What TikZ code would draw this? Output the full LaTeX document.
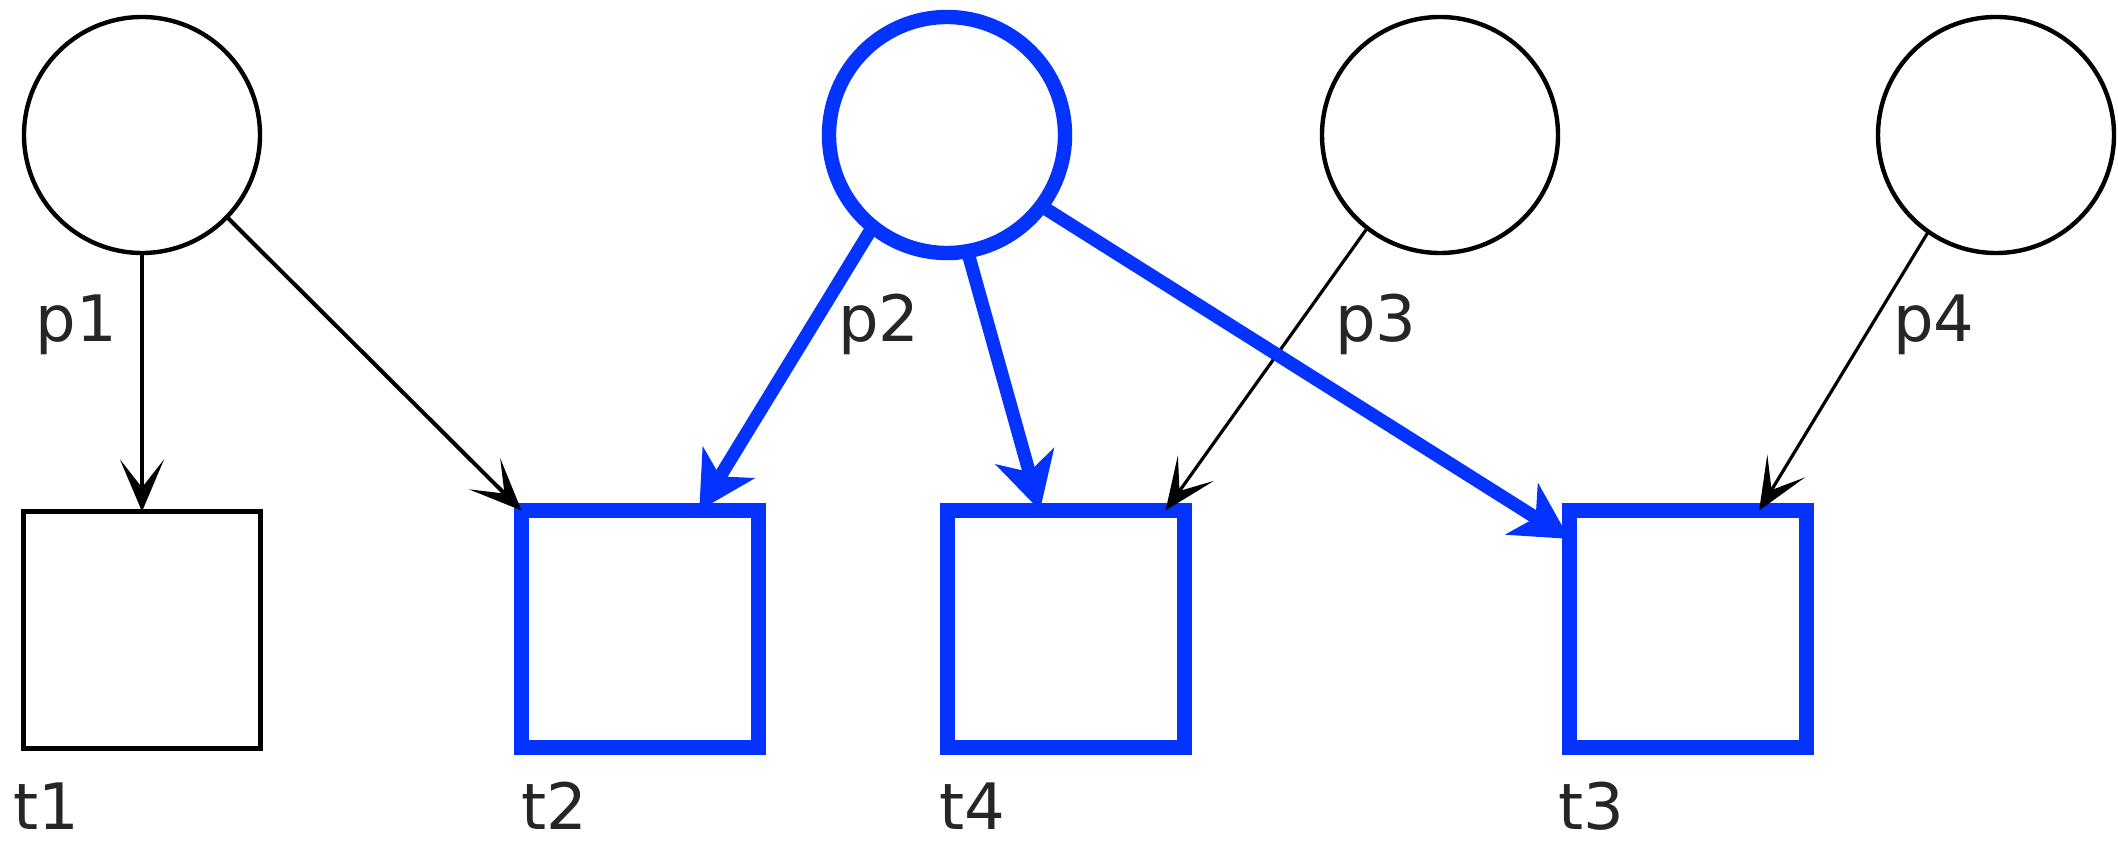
\documentclass[tikz,border=0pt]{standalone}
\usepackage{fontspec}
\setmainfont{DejaVu Sans}
\usetikzlibrary{arrows.meta,calc}
\definecolor{hblue}{RGB}{4,50,255}
\begin{document}
\begin{tikzpicture}[x=0.25pt,y=-0.25pt,
  place/.style={circle,draw=black,line width=1.1pt,inner sep=0pt,outer sep=0pt,minimum size=59pt},
  hplace/.style={place,draw=hblue,line width=3.6pt},
  trans/.style={rectangle,draw=black,line width=1.1pt,inner sep=0pt,outer sep=0pt,minimum size=59.25pt},
  htrans/.style={trans,draw=hblue,line width=3.6pt},
  arc/.style={draw=black,line width=1pt,-{Stealth[length=13pt,width=11pt,inset=7pt]}},
  harc/.style={draw=hblue,line width=3.3pt,-{Stealth[length=14pt,width=15pt,inset=4pt]}},
  lbl/.style={anchor=base west,inner sep=0pt,outer sep=0pt,text=black!85,font=\fontsize{16}{19}\selectfont}]
\useasboundingbox (0,0) rectangle (2118,843);
\node[place] (p1) at (142,135) {};
\node[hplace] (p2) at (947,135) {};
\node[place] (p3) at (1440,135) {};
\node[place] (p4) at (1996,135) {};
\node[trans] (t1) at (142,630) {};
\node[htrans] (t2) at (640,629) {};
\node[htrans] (t4) at (1066,629) {};
\node[htrans] (t3) at (1688,629) {};
\draw[arc] (p1.south) -- (t1.north);
\draw[arc] (p1.316) -- (t2.north west);
\draw[arc,line width=0.8pt] (p3.232.5) -- ($(t4.north west)!0.92!(t4.north east)$);
\draw[arc,line width=0.8pt] (p4.235.6) -- ($(t3.north west)!0.8!(t3.north east)$);
\draw[harc] (p2.231.8) -- ($(t2.north west)!0.75!(t2.north east)$);
\draw[harc] (p2.280.5) -- ($(t4.north west)!0.39!(t4.north east)$);
\draw[harc] (p2.323.5) -- ($(t3.north west)!0.12!(t3.south west)$);
\node[lbl] (lp1) at (36,342) {p1};
\node[lbl] (lp2) at (838,342) {p2};
\node[lbl] (lp3) at (1335,342) {p3};
\node[lbl] (lp4) at (1893,342) {p4};
\node[lbl] (lt1) at (13,830) {t1};
\node[lbl] (lt2) at (521,830) {t2};
\node[lbl] (lt4) at (939,830) {t4};
\node[lbl] (lt3) at (1558,830) {t3};
\end{tikzpicture}
\end{document}
